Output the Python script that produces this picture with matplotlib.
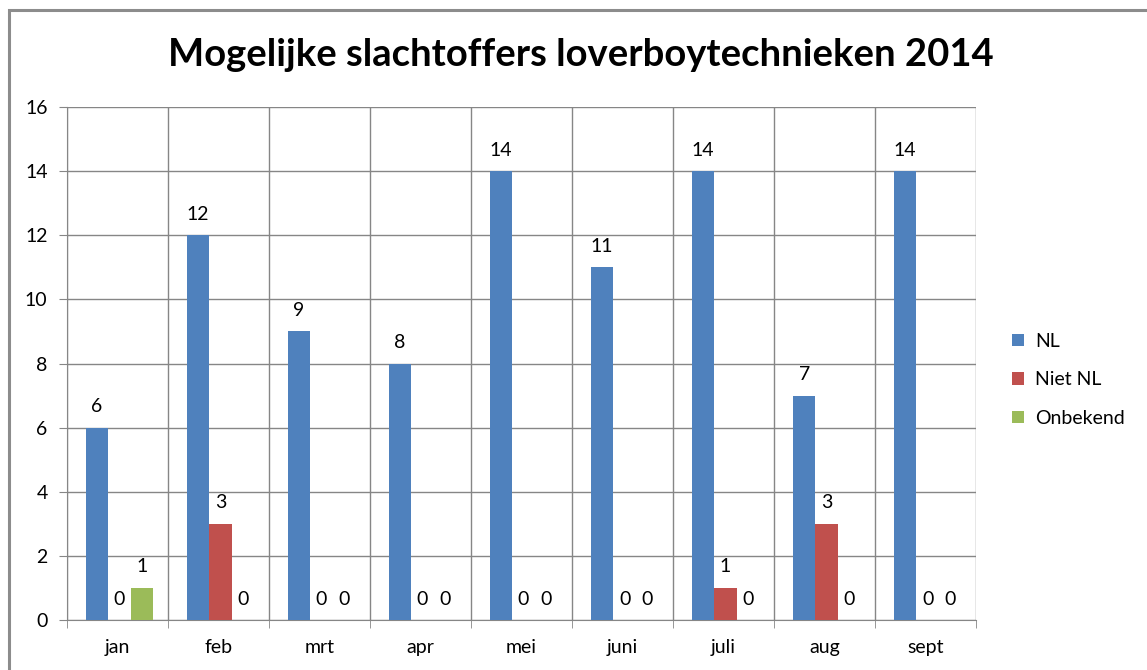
import numpy as np
import matplotlib.pyplot as plt
from matplotlib.patches import Rectangle

months = ["jan", "feb", "mrt", "apr", "mei", "juni", "juli", "aug", "sept"]
nl = [6, 12, 9, 8, 14, 11, 14, 7, 14]
niet_nl = [0, 3, 0, 0, 0, 0, 1, 3, 0]
onbekend = [1, 0, 0, 0, 0, 0, 0, 0, 0]
series_names = ["NL", "Niet NL", "Onbekend"]
colors = ["#4F81BD", "#C0504D", "#9BBB59"]

plt.rcParams['font.family'] = ['Lato', 'DejaVu Sans']

fig = plt.figure(figsize=(11.47, 6.70), dpi=100)
ax = fig.add_axes([0.0584, 0.0746, 0.7926, 0.7657])

# border of the chart area (only top and left visible in the original)
fig.patches.append(Rectangle((9 / 1147, -0.1), 1.2, 1 - 10 / 670 + 0.1,
                             transform=fig.transFigure, fill=False,
                             edgecolor="#8c8c8c", linewidth=2.2, zorder=0))

x = np.arange(len(months))
w = 0.222
for i, (vals, name, c) in enumerate(zip([nl, niet_nl, onbekend], series_names, colors)):
    pos = x + (i - 1) * w + 0.02
    bars = ax.bar(pos, vals, width=w, color=c, label=name, zorder=3)
    for p, v in zip(pos, vals):
        ax.annotate(str(v), (p, v), xytext=(0, 9), textcoords="offset points",
                    ha="center", va="bottom", fontsize=14)

ax.set_xlim(-0.5, len(months) - 0.5)
ax.set_ylim(0, 16)
ax.set_yticks(range(0, 17, 2))
ax.set_xticks(x)
ax.set_xticklabels(months)
ax.set_xticks(np.arange(-0.5, len(months), 1), minor=True)
ax.tick_params(axis="x", which="major", length=0, pad=14, labelsize=14)
ax.tick_params(axis="x", which="minor", length=6, color="#868686")
ax.tick_params(axis="y", length=6, color="#868686", labelsize=14, pad=8)

ax.grid(axis="y", color="#868686", linewidth=1, zorder=0)
ax.grid(axis="x", which="minor", color="#868686", linewidth=1, zorder=0)
for s in ["top", "right"]:
    ax.spines[s].set_visible(False)
for s in ["left", "bottom"]:
    ax.spines[s].set_color("#868686")

fig.text(0.506, 0.918, "Mogelijke slachtoffers loverboytechnieken 2014",
         ha="center", va="center", fontsize=27.5, fontweight="bold")

fig.legend(loc="center left", bbox_to_anchor=(0.867, 0.433), frameon=False,
           fontsize=14, handlelength=0.6, handleheight=0.6,
           labelspacing=1.1, handletextpad=0.6)

fig.savefig("out.png", dpi=100)
